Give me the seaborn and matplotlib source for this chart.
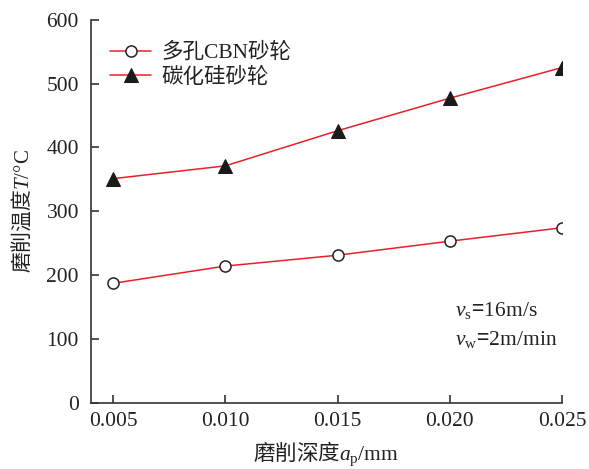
import numpy as np
import pandas as pd
import matplotlib.pyplot as plt
import seaborn as sns

# data
depth = [0.005, 0.010, 0.015, 0.020, 0.025]
temp_cbn = [187, 214, 231, 253, 274]
temp_sic = [351, 371, 426, 477, 525]
labels = ['多孔CBN砂轮', '碳化硅砂轮']

sns.set_theme(style='ticks')
plt.rcParams['font.family'] = ['Liberation Serif', 'Noto Sans CJK SC']
# mathtext: Chinese via rm, latin serif via sf, italic serif via it
plt.rcParams['mathtext.fontset'] = 'custom'
plt.rcParams['mathtext.rm'] = 'Noto Sans CJK SC'
plt.rcParams['mathtext.sf'] = 'Liberation Serif'
plt.rcParams['mathtext.it'] = 'Liberation Serif:italic'
plt.rcParams['axes.unicode_minus'] = False

fig = plt.figure(figsize=(5.89, 4.69), dpi=100)
ax = fig.add_axes([0.154, 0.1414, 0.800, 0.8166])

red = '#e8202a'
sns.lineplot(x=depth, y=temp_cbn, ax=ax, color=red, lw=1.1, marker='o',
             markersize=8, markerfacecolor='white', markeredgecolor='#222222',
             markeredgewidth=1.1, label=labels[0])
sns.lineplot(x=depth, y=temp_sic, ax=ax, color=red, lw=1.1, marker='^',
             markersize=9.5, markerfacecolor='#1a1a1a', markeredgecolor='#1a1a1a',
             label=labels[1])

ax.set_xlim(0.004, 0.025)
ax.set_ylim(0, 600)
ax.set_xticks(depth)
ax.set_xticklabels([f'{d:.3f}' for d in depth])
ax.set_yticks(range(0, 601, 100))
sns.despine(ax=ax)
for s in ['left', 'bottom']:
    ax.spines[s].set_color('#333333')
    ax.spines[s].set_linewidth(1.2)
ax.tick_params(direction='in', length=6, width=1.2, color='#333333',
               labelsize=15.5, labelcolor='#222222')
ax.tick_params(axis='y', pad=8.5)
ax.tick_params(axis='x', pad=7)

ax.set_xlabel(r'$\mathrm{磨削深度}\mathit{a}_{\mathsf{p}}\mathsf{/mm}$',
              fontsize=15.5, color='#222222', labelpad=6)
ax.set_ylabel(r'$\mathrm{磨削温度}\mathit{T}\mathsf{/°C}$',
              fontsize=15, color='#222222', labelpad=9)

ax.legend(loc='upper left', bbox_to_anchor=(0.0, 0.99), frameon=False,
          fontsize=15.5, handlelength=1.9, labelspacing=0.2, handletextpad=0.5,
          labelcolor='#222222')

ax.text(0.02022, 91,
        r'$\mathit{v}_{\mathsf{s}}\!=\!\mathsf{16m/s}$' + '\n' +
        r'$\mathit{v}_{\mathsf{w}}\!=\!\mathsf{2m/min}$',
        fontsize=15.5, color='#222222', linespacing=1.45)

fig.savefig('out.png', dpi=100)
